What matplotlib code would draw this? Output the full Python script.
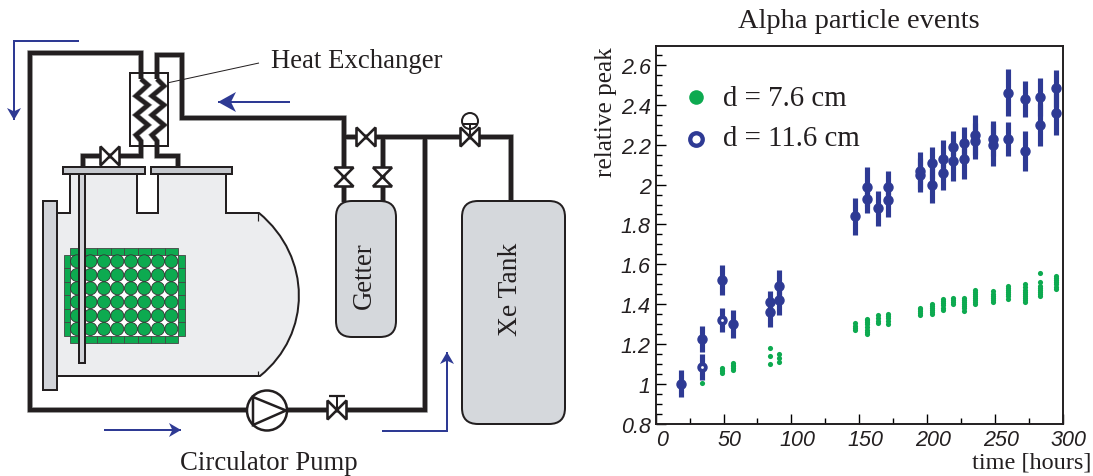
import numpy as np
import matplotlib
matplotlib.use('Agg')
import matplotlib.pyplot as plt
from matplotlib.patches import Circle, Rectangle, Polygon, FancyBboxPatch, PathPatch
from matplotlib.path import Path
from matplotlib.transforms import ScaledTranslation

blue_t = [18.4, 33.9, 33.9, 48.9, 48.9, 57, 84.3, 84.3, 91, 91, 147, 155.8, 155.8, 164, 171.5, 171.5, 195, 195, 204, 204,
          211.5, 211.5, 219.4, 219.4, 227.5, 227.5, 235.4, 235.4, 248.4, 248.4, 259.7, 259.7, 272, 272, 283.5, 283.5, 295, 295]
blue_y = [1.0, 1.225, 1.085, 1.52, 1.32, 1.30, 1.36, 1.41, 1.49, 1.42, 1.84, 1.99, 1.93, 1.88, 1.925, 1.99, 2.07, 2.05, 2.11, 2.00,
          2.13, 2.06, 2.19, 2.12, 2.21, 2.13, 2.25, 2.22, 2.23, 2.20, 2.46, 2.228, 2.43, 2.17, 2.44, 2.30, 2.483, 2.358]
blue_err = [0.067, 0.063, 0.065, 0.075, 0.06, 0.07, 0.075, 0.057, 0.08, 0.075, 0.095, 0.097, 0.072, 0.09, 0.09, 0.077, 0.093, 0.085, 0.08, 0.092,
            0.095, 0.085, 0.08, 0.10, 0.08, 0.10, 0.10, 0.09, 0.087, 0.105, 0.118, 0.087, 0.09, 0.10, 0.095, 0.105, 0.092, 0.108]
green_t = [33.9,
           48.9, 48.9, 48.9, 48.9, 57, 57, 57, 57, 57,
           84.3, 84.3, 84.3, 91, 91, 91,
           147, 147, 147, 147,
           155.8, 155.8, 155.8, 155.8, 155.8, 155.8, 155.8, 155.8,
           164, 164, 164, 164, 171.5, 171.5, 171.5, 171.5, 171.5,
           195, 195, 195, 195, 195, 204, 204, 204, 204, 204, 204,
           211.5, 211.5, 211.5, 211.5, 211.5, 211.5, 219.4, 219.4, 219.4, 219.4,
           227.5, 227.5, 227.5, 227.5, 227.5, 227.5, 227.5,
           235.4, 235.4, 235.4, 235.4, 235.4, 235.4, 235.4, 235.4,
           248.4, 248.4, 248.4, 248.4, 248.4, 248.4,
           259.7, 259.7, 259.7, 259.7, 259.7, 259.7, 259.7,
           272, 272, 272, 272, 272, 272, 272, 272, 272,
           283.5, 283.5, 283.5, 283.5, 283.5, 283.5, 283.5, 283.5,
           295, 295, 295, 295, 295, 295, 295]
green_y = [1.005,
           1.055, 1.065, 1.07, 1.08, 1.07, 1.08, 1.09, 1.095, 1.105,
           1.10, 1.14, 1.18, 1.11, 1.13, 1.15,
           1.27, 1.28, 1.29, 1.305,
           1.25, 1.26, 1.27, 1.285, 1.30, 1.31, 1.32, 1.325,
           1.305, 1.315, 1.33, 1.345, 1.30, 1.315, 1.33, 1.34, 1.35,
           1.345, 1.355, 1.365, 1.375, 1.38, 1.35, 1.36, 1.37, 1.38, 1.39, 1.40,
           1.37, 1.38, 1.395, 1.405, 1.415, 1.425, 1.40, 1.41, 1.42, 1.43,
           1.365, 1.38, 1.39, 1.40, 1.41, 1.42, 1.43,
           1.40, 1.41, 1.42, 1.43, 1.44, 1.45, 1.46, 1.47,
           1.41, 1.42, 1.43, 1.44, 1.45, 1.465,
           1.425, 1.44, 1.45, 1.46, 1.47, 1.48, 1.49,
           1.41, 1.42, 1.43, 1.44, 1.45, 1.46, 1.47, 1.485, 1.50,
           1.44, 1.45, 1.46, 1.47, 1.48, 1.49, 1.51, 1.555,
           1.475, 1.485, 1.50, 1.51, 1.52, 1.53, 1.54]
hollow_t = [33.9, 48.9]
hollow_y = [1.085, 1.32]
x_ticks = [0, 50, 100, 150, 200, 250, 300]
y_ticks = [0.8, 1, 1.2, 1.4, 1.6, 1.8, 2, 2.2, 2.4, 2.6]
y_labels = ['0.8', '1', '1.2', '1.4', '1.6', '1.8', '2', '2.2', '2.4', '2.6']

# schematic geometry in image pixels
pipes = [
    [(141, 80), (141, 54), (30, 54), (30, 411), (425, 411), (425, 138)],
    [(157, 80), (157, 56), (182, 56), (182, 119), (344, 119), (344, 203)],
    [(344, 138), (511, 138), (511, 203)],
    [(382.5, 138), (382.5, 203)],
    [(141, 147), (141, 157), (83, 157), (83, 168)],
    [(157, 147), (157, 157), (178, 157), (178, 168)],
]
zig_left = [(141, 80), (148, 86), (136, 97), (148, 106), (136, 116), (148, 126), (136, 136), (141, 142), (141, 147)]
zig_right = [(157, 80), (164, 87), (152, 97), (164, 106), (152, 116), (164, 126), (152, 136), (157, 142), (157, 147)]
vessel = [(57, 214), (70, 214), (70, 175), (137, 175), (137, 214), (158, 214), (158, 175), (226, 175), (226, 214), (259, 214)]
h_valves = [(110, 157), (366, 138), (470, 138), (337, 411)]
v_valves = [(344, 178), (382.5, 178)]
pmt_x = [77, 90.5, 104, 117.3, 131, 144.3, 158, 171.3]
pmt_y = [262.3, 276, 289.3, 303, 316.7, 330]
blue_arrows = [
    ([(79, 42), (14, 42), (14, 121)], 12, 7),
    ([(290, 103), (218, 103)], 18, 10),
    ([(104, 431), (181, 431)], 12, 7),
    ([(382, 432), (447, 432), (447, 353)], 12, 7),
]

dark = '#231f20'
navy = '#2e3a94'
green = '#0daa50'
serif = 'Liberation Serif'
sans = 'Liberation Sans'

fig = plt.figure(figsize=(10.93, 4.77), dpi=100)
bg = fig.add_axes([0, 0, 1, 1])
bg.set_xlim(0, 1093)
bg.set_ylim(477, 0)
bg.axis('off')

px = 0.72  # one image pixel in points


def line(pts, lw, color=dark, z=3, **kw):
    xs, ys = zip(*pts)
    bg.plot(xs, ys, color=color, lw=lw * px, zorder=z, solid_joinstyle='miter', solid_capstyle='butt', **kw)


def valve(cx, cy, horizontal=True, s=9.5):
    if horizontal:
        left = [(cx, cy), (cx - s, cy - s), (cx - s, cy + s)]
        right = [(cx, cy), (cx + s, cy - s), (cx + s, cy + s)]
    else:
        left = [(cx, cy), (cx - s, cy - s), (cx + s, cy - s)]
        right = [(cx, cy), (cx - s, cy + s), (cx + s, cy + s)]
    for tri in (left, right):
        bg.add_patch(Polygon(tri, closed=True, fc='white', ec=dark, lw=2.6 * px, zorder=5))


def arrow(pts, head_len, head_w):
    line(pts, 2, color=navy, z=6)
    (x0, y0), (x1, y1) = pts[-2], pts[-1]
    d = np.array([x1 - x0, y1 - y0], float)
    d = d / np.hypot(*d)
    n = np.array([-d[1], d[0]])
    tip = np.array([x1, y1])
    wing = tip - head_len * d
    head = [tip, wing + head_w * n, tip - 0.72 * head_len * d, wing - head_w * n]
    bg.add_patch(Polygon(head, closed=True, fc=navy, ec='none', zorder=6))


# vessel body, the right end is a single bulged curve
codes = [Path.MOVETO] + [Path.LINETO] * (len(vessel) - 1) + [Path.CURVE4, Path.CURVE4, Path.CURVE4, Path.LINETO, Path.LINETO, Path.CLOSEPOLY]
verts = vessel + [(312, 258), (312, 335), (260, 377), (57, 377), (57, 214), (57, 214)]
bg.add_patch(PathPatch(Path(verts, codes), fc='#ecedef', ec=dark, lw=2 * px, zorder=1))
line([(258, 214), (258, 222)], 1.2, z=2)
line([(258, 372), (258, 377)], 1.2, z=2)

# detector
bg.add_patch(Rectangle((70, 255), 108, 82, fc='white', ec='none', zorder=2))
step = 13.5
for x in pmt_x:
    bg.add_patch(Rectangle((x - step / 2, 249), step, 6.5, fc=green, ec='#444444', lw=0.6, zorder=2))
    bg.add_patch(Rectangle((x - step / 2, 337), step, 6.5, fc=green, ec='#444444', lw=0.6, zorder=2))
    for y in pmt_y:
        bg.add_patch(Circle((x, y), 6.5, fc=green, ec='#333333', lw=0.6, zorder=3))
for y in pmt_y:
    bg.add_patch(Rectangle((63.5, y - step / 2), 6.5, step, fc=green, ec='#444444', lw=0.6, zorder=2))
    bg.add_patch(Rectangle((178, y - step / 2), 6.5, step, fc=green, ec='#444444', lw=0.6, zorder=2))

# flanges, rod, side plate
bg.add_patch(Rectangle((43, 202), 14, 189, fc='#d1d3d8', ec=dark, lw=2 * px, zorder=4))
bg.add_patch(Rectangle((79, 175), 6, 189, fc='#d1d3d8', ec=dark, lw=2 * px, zorder=4))
bg.add_patch(Rectangle((63, 168), 82, 7, fc='#c5c8cd', ec=dark, lw=2 * px, zorder=4))
bg.add_patch(Rectangle((151, 168), 81, 7, fc='#c5c8cd', ec=dark, lw=2 * px, zorder=4))

# pipes and exchanger, a grey halo under the dark core
for p in pipes + [zig_left, zig_right]:
    line(p, 5.5, color='#8c8c8c', z=2.9)
    line(p, 4.2)
bg.add_patch(Rectangle((129.5, 74), 38, 73, fc='none', ec=dark, lw=2 * px, zorder=4))
line([(167, 84), (259, 64)], 1, z=4)

# tanks
bg.add_patch(FancyBboxPatch((336, 202), 60, 136, boxstyle='round,pad=0,rounding_size=16', fc='#d5d8dc', ec=dark, lw=2 * px, zorder=4))
bg.add_patch(FancyBboxPatch((462, 202), 103, 223, boxstyle='round,pad=0,rounding_size=16', fc='#d5d8dc', ec=dark, lw=2 * px, zorder=4))

# valves
for cx, cy in h_valves:
    valve(cx, cy)
for cx, cy in v_valves:
    valve(cx, cy, horizontal=False)
line([(470, 126), (470, 138)], 2, z=6)
bg.add_patch(Circle((470, 122), 8, fc='white', ec=dark, lw=2 * px, zorder=5))
line([(462, 125), (478, 125)], 2, z=6)
line([(337, 397), (337, 411)], 2, z=6)
line([(329, 397), (345, 397)], 2.2, z=6)

# pump
bg.add_patch(Circle((267, 411.5), 20, fc='white', ec=dark, lw=2.5 * px, zorder=5))
bg.add_patch(Polygon([(253, 398), (253, 426), (286, 411.5)], closed=True, fc='white', ec=dark, lw=2.5 * px, zorder=6))

for pts, hl, hw in blue_arrows:
    arrow(pts, hl, hw)

bg.text(271, 61, 'Heat Exchanger', family=serif, fontsize=19.3, color=dark, va='center', ha='left')
bg.text(268.5, 464, 'Circulator Pump', family=serif, fontsize=19.3, color=dark, va='center', ha='center')
bg.text(364, 276, 'Getter', family=serif, fontsize=19.3, color=dark, rotation=90, va='center', ha='center', zorder=7)
bg.text(510.5, 289, 'Xe Tank', family=serif, fontsize=19.8, color=dark, rotation=90, va='center', ha='center', zorder=7)
bg.text(859, 22, 'Alpha particle events', family=serif, fontsize=20.5, color=dark, va='center', ha='center')

# data panel
ax = fig.add_axes([655.7 / 1093, 1 - 424.7 / 477, 407 / 1093, 378 / 477])
ax.set_xlim(0, 300)
ax.set_ylim(0.8, 2.697)
ax.patch.set_alpha(0)
ax.errorbar(blue_t, blue_y, yerr=blue_err, fmt='o', ms=6.5, color=navy, ecolor=navy, elinewidth=3.7, capsize=0, zorder=3)
ax.plot(green_t, green_y, 'o', ms=3.7, color=green, mew=0, zorder=4)
ax.plot(hollow_t, hollow_y, 'o', ms=2, color='white', mew=0, zorder=5)
ax.plot([29.7], [2.44], 'o', ms=10.5, color=green, mew=0)
ax.plot([29.7], [2.228], 'o', ms=9, mfc='white', mec=navy, mew=3.1)
ax.text(49.6, 2.399, 'd = 7.6 cm', family=serif, fontsize=20.8, color=dark, va='baseline')
ax.text(49.6, 2.198, 'd = 11.6 cm', family=serif, fontsize=20.8, color=dark, va='baseline')
ax.set_xticks(x_ticks)
ax.set_xticks(np.arange(0, 300, 25), minor=True)
ax.set_yticks(y_ticks)
ax.set_yticklabels(y_labels)
ax.set_yticks(np.arange(0.8, 2.7, 0.05), minor=True)
ax.tick_params(axis='both', which='major', direction='in', length=7, width=1, labelsize=15.5, labelcolor=dark)
ax.tick_params(axis='both', which='minor', direction='in', length=4, width=1)
ax.tick_params(axis='x', pad=4)
for lab in ax.get_xticklabels() + ax.get_yticklabels():
    lab.set_family(sans)
    lab.set_style('italic')
for lab in ax.get_xticklabels():
    lab.set_transform(lab.get_transform() + ScaledTranslation(6 / 100, 0, fig.dpi_scale_trans))
for s in ax.spines.values():
    s.set_linewidth(1.4)
    s.set_color(dark)
bg.text(1091, 463.5, 'time [hours]', family=serif, fontsize=17.5, color=dark, va='center', ha='right')
bg.text(606, 112, 'relative peak', family=serif, fontsize=18.2, color=dark, rotation=90, va='center', ha='center')

fig.savefig('out.png', dpi=100)
